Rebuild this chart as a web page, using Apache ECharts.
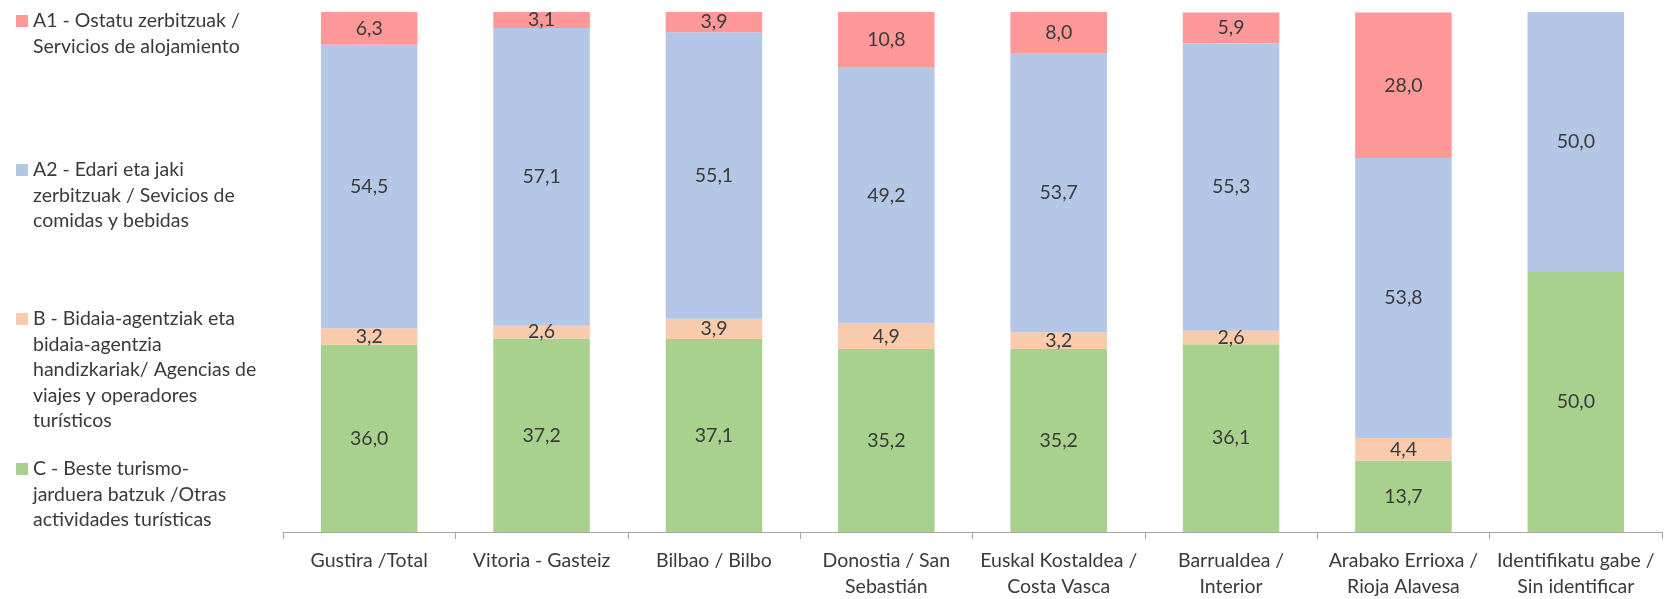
<!DOCTYPE html>
<html>
<head>
<meta charset="utf-8">
<script src="https://cdn.jsdelivr.net/npm/echarts@6/dist/echarts.min.js"></script>
<style>
html,body{margin:0;padding:0;background:#fff;}
#chart{width:1664px;height:599px;}
</style>
</head>
<body>
<div id="chart"></div>
<script>
const categories = [
  "Gustira /Total",
  "Vitoria - Gasteiz",
  "Bilbao / Bilbo",
  "Donostia / San\nSebastián",
  "Euskal Kostaldea /\nCosta Vasca",
  "Barrualdea /\nInterior",
  "Arabako Errioxa /\nRioja Alavesa",
  "Identifikatu gabe /\nSin identificar"
];
const seriesNames = [
  "A1 - Ostatu zerbitzuak / Servicios de alojamiento",
  "A2 - Edari eta jaki zerbitzuak / Sevicios de comidas y bebidas",
  "B - Bidaia-agentziak eta bidaia-agentzia handizkariak/ Agencias de viajes y operadores turísticos",
  "C - Beste turismo-jarduera batzuk /Otras actividades turísticas"
];
const legendLines = [
  ["A1 - Ostatu zerbitzuak /", "Servicios de alojamiento"],
  ["A2 - Edari eta jaki", "zerbitzuak / Sevicios de", "comidas y bebidas"],
  ["B - Bidaia-agentziak eta", "bidaia-agentzia", "handizkariak/ Agencias de", "viajes y operadores", "turísticos"],
  ["C - Beste turismo-", "jarduera batzuk /Otras", "actividades turísticas"]
];
const valuesA1 = [6.3, 3.1, 3.9, 10.8, 8.0, 5.9, 28.0, 0];
const valuesA2 = [54.5, 57.1, 55.1, 49.2, 53.7, 55.3, 53.8, 50.0];
const valuesB  = [3.2, 2.6, 3.9, 4.9, 3.2, 2.6, 4.4, 0];
const valuesC  = [36.0, 37.2, 37.1, 35.2, 35.2, 36.1, 13.7, 50.0];
const colors = ["#FF9999", "#B4C7E7", "#F8CBAD", "#A9D18E"];

const FONT = "Lato";
const FS = 19.5;
const LH = 25.5;
const TXT = "#3a3a3a";

const seriesData = [valuesC, valuesB, valuesA2, valuesA1];
const seriesIdx = [3, 2, 1, 0];

const series = seriesIdx.map((si, k) => ({
  name: seriesNames[si],
  type: 'bar',
  stack: 'total',
  barWidth: '56%',
  data: seriesData[k],
  itemStyle: { color: colors[si] },
  label: {
    show: true,
    position: 'inside',
    color: TXT,
    fontFamily: FONT,
    fontSize: FS,
    formatter: p => p.value ? p.value.toFixed(1).replace('.', ',') : ''
  }
}));

// first-line centre of each legend entry
const legendLine1 = [16, 165, 314, 464];
const legends = [];
seriesNames.forEach((n, i) => {
  const common = {
    data: [n],
    left: 11,
    orient: 'vertical',
    icon: 'rect',
    itemWidth: 12,
    itemHeight: 12,
    itemGap: 0,
    selectedMode: false,
    textStyle: { color: TXT, fontFamily: FONT, fontSize: FS, lineHeight: LH }
  };
  legends.push(Object.assign({}, common, {
    top: legendLine1[i] - LH / 2,
    formatter: () => legendLines[i][0]
  }));
  legends.push(Object.assign({}, common, {
    top: legendLine1[i] + LH / 2,
    itemStyle: { opacity: 0 },
    formatter: () => legendLines[i].slice(1).join('\n')
  }));
});

const chart = echarts.init(document.getElementById('chart'));
chart.setOption({
  animation: false,
  backgroundColor: '#fff',
  legend: legends,
  grid: { left: 283, right: 2, top: 12, bottom: 65, containLabel: false },
  xAxis: {
    type: 'category',
    data: categories,
    axisLine: { lineStyle: { color: '#A6A6A6', width: 1 } },
    axisTick: { show: true, length: 7, lineStyle: { color: '#A6A6A6' } },
    axisLabel: {
      color: TXT, fontFamily: FONT, fontSize: FS, lineHeight: LH,
      margin: 16, interval: 0
    }
  },
  yAxis: {
    type: 'value', min: 0, max: 100, show: false,
    splitLine: { show: false }
  },
  series: series
});
</script>
</body>
</html>
